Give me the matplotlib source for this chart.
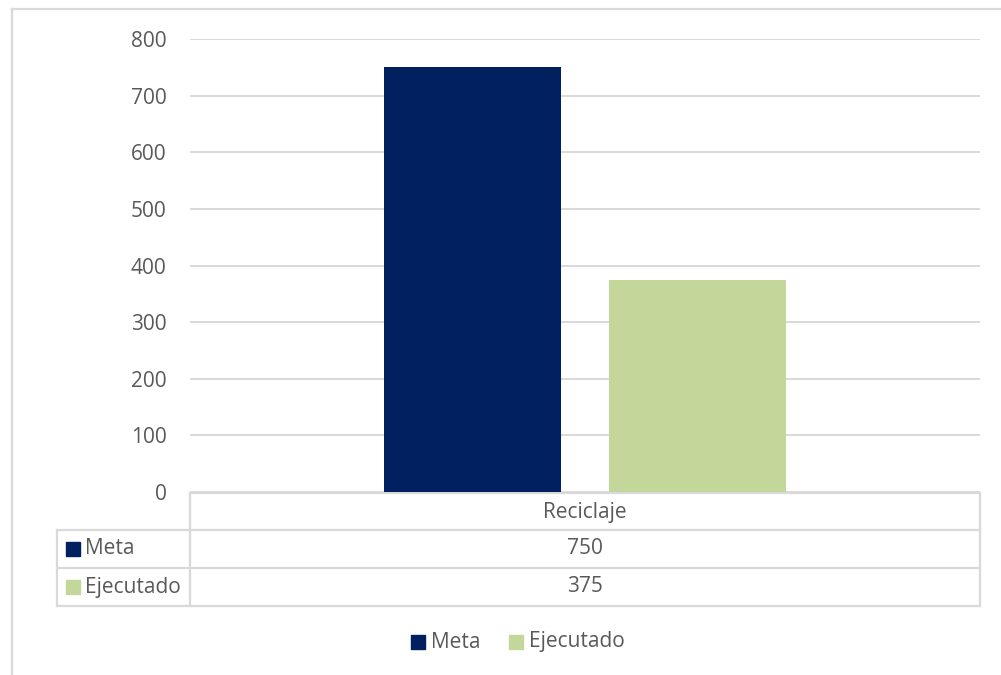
import matplotlib
matplotlib.use("Agg")
import matplotlib.pyplot as plt
from matplotlib.patches import Rectangle

# data
categories = ["Reciclaje"]
series_names = ["Meta", "Ejecutado"]
meta = [750]
ejecutado = [375]
colors = ["#002060", "#C4D79B"]
y_ticks = [0, 100, 200, 300, 400, 500, 600, 700, 800]

plt.rcParams['font.family'] = ['Open Sans', 'DejaVu Sans']
txt_color = "#595959"
grid_color = "#D9D9D9"
fs = 15

W, H = 1001, 675
fig = plt.figure(figsize=(W / 100, H / 100), dpi=100)

# plot area in pixel coords
px_left, px_right, px_top, px_bottom = 190, 980, 39, 492
ax = fig.add_axes([px_left / W, 1 - px_bottom / H, (px_right - px_left) / W, (px_bottom - px_top) / H])

bar_w = 0.225
offsets = [-0.1425, 0.1425]
for i, vals in enumerate([meta, ejecutado]):
    xs = [k + offsets[i] for k in range(len(categories))]
    ax.bar(xs, vals, width=bar_w, color=colors[i], zorder=3)

ax.set_xlim(-0.5, len(categories) - 0.5)
ax.set_ylim(0, 800)
ax.set_yticks(y_ticks)
ax.set_yticklabels([str(t) for t in y_ticks], fontsize=fs, color=txt_color)
ax.tick_params(axis='y', length=0, pad=17)
ax.set_xticks([])
ax.grid(axis='y', color=grid_color, linewidth=1.4, zorder=0)
for s in ax.spines.values():
    s.set_visible(False)

# overlay for table, legend and frame (pixel coordinates)
ov = fig.add_axes([0, 0, 1, 1], zorder=-1)
ov.set_xlim(0, W)
ov.set_ylim(H, 0)
ov.axis('off')

lw = 1.6
# outer chart frame (left and top edges visible)
ov.plot([12, 12], [9, H], color=grid_color, lw=lw)
ov.plot([12, W], [9, 9], color=grid_color, lw=lw)

# data table
row_y = [493, 530, 568, 606]
label_x = 57
ov.plot([px_left, px_right], [row_y[0], row_y[0]], color=grid_color, lw=lw)
for y in row_y[1:]:
    ov.plot([label_x, px_right], [y, y], color=grid_color, lw=lw)
ov.plot([px_left, px_left], [row_y[0], row_y[-1]], color=grid_color, lw=lw)
ov.plot([px_right, px_right], [row_y[0], row_y[-1]], color=grid_color, lw=lw)
ov.plot([label_x, label_x], [row_y[1], row_y[-1]], color=grid_color, lw=lw)

cx = (px_left + px_right) / 2
ov.text(cx, (row_y[0] + row_y[1]) / 2 + 1, categories[0], ha='center', va='center',
        fontsize=fs, color=txt_color)
for i, (name, vals) in enumerate(zip(series_names, [meta, ejecutado])):
    yc = (row_y[i + 1] + row_y[i + 2]) / 2
    ov.add_patch(Rectangle((66, yc - 7), 14, 14, color=colors[i]))
    ov.text(85, yc, name, ha='left', va='center', fontsize=fs, color=txt_color)
    ov.text(cx, yc, str(vals[0]), ha='center', va='center', fontsize=fs, color=txt_color)

# legend
leg_y = 642
leg_x = [411, 509]
for i, name in enumerate(series_names):
    ov.add_patch(Rectangle((leg_x[i], leg_y - 7), 14, 14, color=colors[i]))
    ov.text(leg_x[i] + 20, leg_y, name, ha='left', va='center', fontsize=fs, color=txt_color)

fig.savefig("out.png", dpi=100, facecolor="white")
